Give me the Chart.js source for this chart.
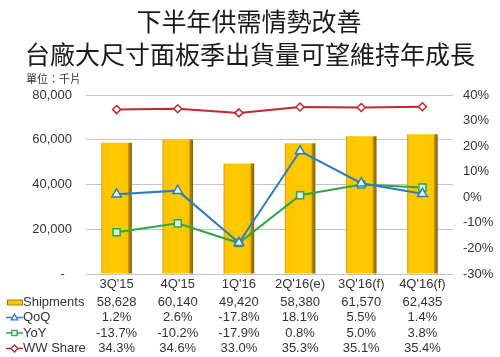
<!DOCTYPE html>
<html>
<head>
<meta charset="utf-8">
<script src="https://cdn.jsdelivr.net/npm/chart.js@4/dist/chart.umd.min.js"></script>
<style>
  html, body { margin: 0; padding: 0; background: #fff; }
  #wrap { width: 500px; height: 357px; }
</style>
</head>
<body>
<div id="wrap"><canvas id="c" width="500" height="357"></canvas></div>
<script>
// ---- data ----
const categories = ["3Q'15", "4Q'15", "1Q'16", "2Q'16(e)", "3Q'16(f)", "4Q'16(f)"];
const shipments = [58628, 60140, 49420, 58380, 61570, 62435];
const qoq = [1.2, 2.6, -17.8, 18.1, 5.5, 1.4];
const yoy = [-13.7, -10.2, -17.9, 0.8, 5.0, 3.8];
const wwShare = [34.3, 34.6, 33.0, 35.3, 35.1, 35.4];
const leftTickValues = [0, 20000, 40000, 60000, 80000];
const rightTickValues = [-30, -20, -10, 0, 10, 20, 30, 40];
const titleLines = ['下半年供需情勢改善', '台廠大尺寸面板季出貨量可望維持年成長'];
const unitLabel = '單位：千片';
const seriesNames = ['Shipments', 'QoQ', 'YoY', 'WW Share'];

// ---- styles ----
const FONT = "'Liberation Sans', Arial, sans-serif";
const CJK = "'Noto Sans CJK TC', 'Noto Sans CJK SC', sans-serif";
const TXT = '#333333';
const BLUE = '#2F7DC0', GREEN = '#2EA845', RED = '#C0282E';

function fmtNum(v) { return v.toLocaleString('en-US'); }
function fmtPct(v) { return v.toFixed(1) + '%'; }

function barFill(ctx) {
  const chart = ctx.chart;
  const area = chart.chartArea;
  if (!area || ctx.type !== 'data') return '#FFC800';
  const xs = chart.scales.x;
  const cx = xs.getPixelForValue(ctx.dataIndex);
  const w = (area.width / categories.length) * 0.5;
  const g = chart.ctx.createLinearGradient(cx - w / 2, 0, cx + w / 2, 0);
  g.addColorStop(0, '#C89A00');
  g.addColorStop(0.05, '#FFC400');
  g.addColorStop(0.5, '#FFCB00');
  g.addColorStop(0.86, '#FFC500');
  g.addColorStop(0.9, '#B48C08');
  g.addColorStop(1, '#7A6000');
  return g;
}

function drawMarker(c, style, x, y, r, fill, stroke) {
  c.save();
  c.fillStyle = fill; c.strokeStyle = stroke; c.lineWidth = 1.3;
  c.beginPath();
  if (style === 'triangle') {
    c.moveTo(x, y - r); c.lineTo(x + r * 0.95, y + r * 0.65); c.lineTo(x - r * 0.95, y + r * 0.65); c.closePath();
  } else if (style === 'rect') {
    c.rect(x - r * 0.75, y - r * 0.75, r * 1.5, r * 1.5);
  } else {
    c.moveTo(x, y - r); c.lineTo(x + r, y); c.lineTo(x, y + r); c.lineTo(x - r, y); c.closePath();
  }
  c.fill(); c.stroke();
  c.restore();
}

const overlay = {
  id: 'overlay',
  afterDraw(chart) {
    const c = chart.ctx;
    const xs = chart.scales.x;
    c.save();
    // title
    c.fillStyle = '#1a1a1a';
    c.textAlign = 'center';
    c.textBaseline = 'middle';
    c.font = "400 25px " + CJK;
    c.fillText(titleLines[0], 249, 21);
    c.fillText(titleLines[1], 250, 54);
    // unit
    c.font = "11px " + CJK;
    c.fillStyle = TXT;
    c.textAlign = 'left';
    c.fillText(unitLabel, 26, 79);

    // table
    const rowsY = [302, 317.5, 333, 348.5];
    const rows = [
      shipments.map(fmtNum),
      qoq.map(fmtPct),
      yoy.map(fmtPct),
      wwShare.map(fmtPct)
    ];
    c.font = "13px " + FONT;
    c.textBaseline = 'middle';
    // shipments key
    c.fillStyle = '#FFC800';
    c.strokeStyle = '#A07E00';
    c.lineWidth = 1;
    c.fillRect(7.5, rowsY[0] - 2, 15, 5);
    c.strokeRect(7.5, rowsY[0] - 2, 15, 5);
    const keys = [null, ['triangle', BLUE, '#E4F4FA'], ['rect', GREEN, '#DDF3EE'], ['diamond', RED, '#FFFFFF']];
    for (let i = 1; i < 4; i++) {
      const [st, col, fill] = keys[i];
      c.strokeStyle = col; c.lineWidth = 1.5;
      c.beginPath(); c.moveTo(6, rowsY[i]); c.lineTo(23, rowsY[i]); c.stroke();
      drawMarker(c, st, 14.5, rowsY[i], 3.5, fill, col);
    }
    c.fillStyle = TXT;
    c.textAlign = 'left';
    seriesNames.forEach((n, i) => c.fillText(n, 23, rowsY[i]));
    c.textAlign = 'center';
    rows.forEach((r, i) => {
      r.forEach((t, j) => c.fillText(t, xs.getPixelForValue(j), rowsY[i]));
    });
    c.restore();
  }
};

new Chart(document.getElementById('c'), {
  type: 'bar',
  data: {
    labels: categories,
    datasets: [
      {
        type: 'line', label: seriesNames[3], data: wwShare, yAxisID: 'y1', order: 0,
        borderColor: RED, borderWidth: 2, pointStyle: 'rectRot', pointRadius: 4,
        pointBackgroundColor: '#FFFFFF', pointBorderColor: RED, pointBorderWidth: 1.5, tension: 0
      },
      {
        type: 'line', label: seriesNames[1], data: qoq, yAxisID: 'y1', order: 1,
        borderColor: BLUE, borderWidth: 2, pointStyle: 'triangle', pointRadius: 5.5,
        pointBackgroundColor: '#E4F4FA', pointBorderColor: BLUE, pointBorderWidth: 1.5, tension: 0
      },
      {
        type: 'line', label: seriesNames[2], data: yoy, yAxisID: 'y1', order: 2,
        borderColor: GREEN, borderWidth: 2, pointStyle: 'rect', pointRadius: 5,
        pointBackgroundColor: '#DDF3EE', pointBorderColor: GREEN, pointBorderWidth: 1.5, tension: 0
      },
      {
        type: 'bar', label: seriesNames[0], data: shipments, yAxisID: 'y', order: 3,
        backgroundColor: barFill, borderWidth: 0,
        categoryPercentage: 1, barPercentage: 0.5
      }
    ]
  },
  options: {
    responsive: false,
    animation: false,
    devicePixelRatio: 1,
    layout: { padding: { top: 95, left: 0, right: 0, bottom: 0 } },
    plugins: { legend: { display: false }, tooltip: { enabled: false }, title: { display: false } },
    scales: {
      x: {
        grid: { display: false, drawTicks: false }, border: { display: false },
        ticks: { color: TXT, font: { family: FONT, size: 13 }, padding: 3, maxRotation: 0 },
        afterFit(s) { s.height = 83; }
      },
      y: {
        position: 'left', min: 0, max: 80000,
        afterBuildTicks(s) { s.ticks = leftTickValues.map(v => ({ value: v })); },
        ticks: {
          color: TXT, font: { family: FONT, size: 13 }, padding: 14,
          callback: v => v === 0 ? '-  ' : fmtNum(v)
        },
        grid: { color: '#C4C4C4', drawTicks: false, lineWidth: 1 },
        border: { display: false },
        afterFit(s) { s.width = 86; }
      },
      y1: {
        position: 'right', min: -30, max: 40,
        afterBuildTicks(s) { s.ticks = rightTickValues.map(v => ({ value: v })); },
        ticks: {
          color: TXT, font: { family: FONT, size: 13 }, padding: 10,
          callback: v => v + '%'
        },
        grid: { display: false, drawTicks: false }, border: { display: false },
        afterFit(s) { s.width = 47; }
      }
    }
  },
  plugins: [overlay]
});
</script>
</body>
</html>
